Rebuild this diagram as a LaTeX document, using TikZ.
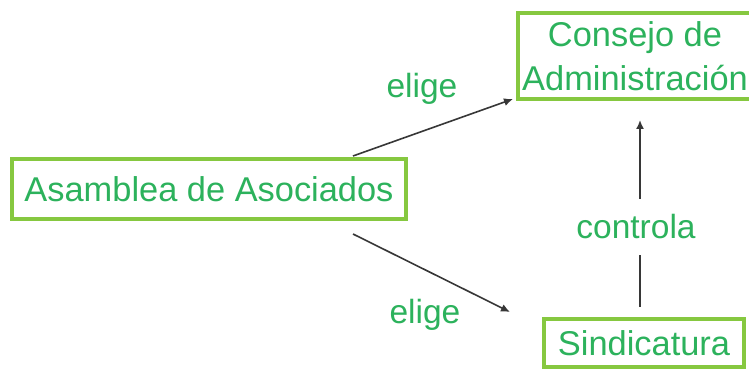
\documentclass[tikz,border=0pt]{standalone}
\usepackage{fontspec}
\setmainfont{Liberation Sans}
\usetikzlibrary{arrows.meta}
\definecolor{boxgreen}{RGB}{134,200,64}
\definecolor{textgreen}{RGB}{44,178,92}
\definecolor{arrowgray}{RGB}{55,55,55}
\begin{document}
\begin{tikzpicture}[x=1pt, y=1pt,
    organo/.style={rectangle, draw=boxgreen, line width=4pt, inner sep=0pt,
        text=textgreen, align=center, font=\fontsize{34.4}{44}\selectfont},
    etiqueta/.style={text=textgreen, font=\fontsize{33.5}{40}\selectfont},
    flecha/.style={-{Latex[length=9pt,width=8pt]}, draw=arrowgray, line width=1.6pt}]
    \clip (0,0) rectangle (749,371);
    \useasboundingbox (0,0) rectangle (749,371);
    \fill[white] (0,0) rectangle (749,371);

    \node (asamblea) [organo, minimum width=394pt, minimum height=60pt] at (209,182) {Asamblea de Asociados};
    \node (consejo) [organo, minimum width=234pt, minimum height=86pt] at (635,315) {Consejo de\\Administración};
    \node (sindicatura) [organo, minimum width=200pt, minimum height=48pt] at (644,28) {Sindicatura};

    \node (elige1) [etiqueta] at (422,282) {elige};
    \node (elige2) [etiqueta] at (425,56) {elige};

    \draw [flecha] ([shift={(-55,1)}]asamblea.north east) -- ([shift={(-3,2)}]consejo.south west);
    \draw [flecha] ([shift={(-55,-13)}]asamblea.south east) -- ([shift={(-32,5)}]sindicatura.north west);
    \draw [flecha] ([shift={(-4,10)}]sindicatura.north) -- node (controla) [etiqueta, pos=0.43, fill=white, inner sep=0pt, minimum height=56pt, xshift=-4pt] {controla} ([shift={(5,-19)}]consejo.south);
\end{tikzpicture}
\end{document}
